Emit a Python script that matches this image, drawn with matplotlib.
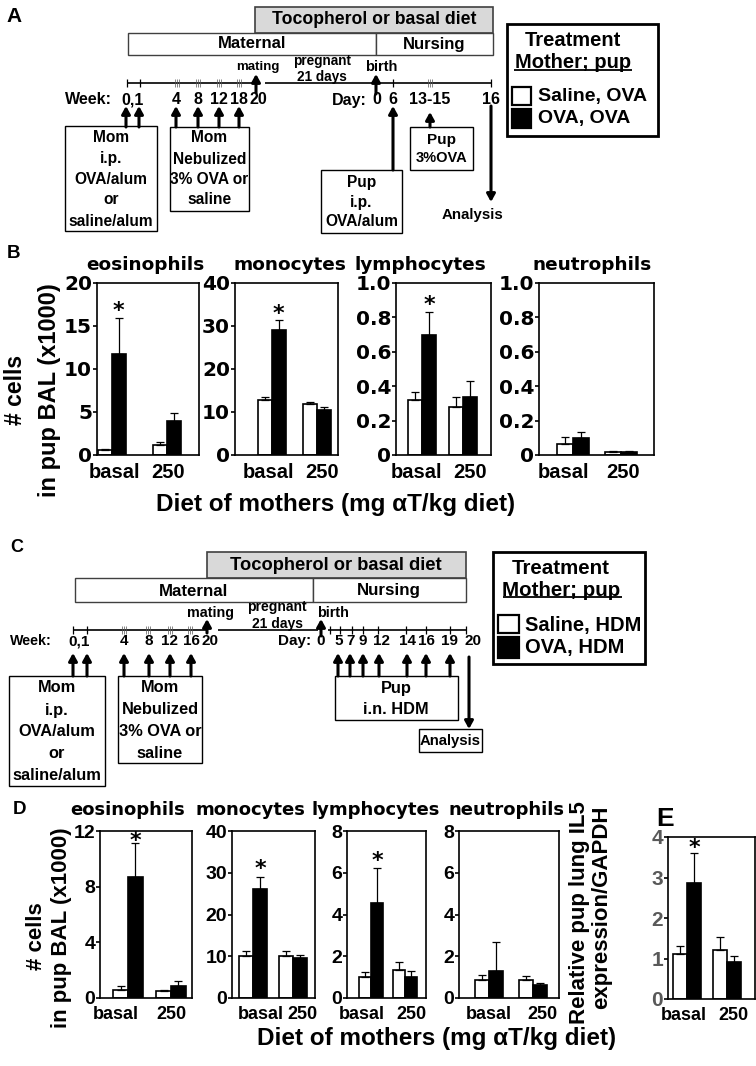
import matplotlib
matplotlib.use('Agg')
import matplotlib.pyplot as plt
from matplotlib.patches import Rectangle
import numpy as np

W, H = 756, 1066
REG = ['Liberation Sans', 'DejaVu Sans']
WIDE = ['DejaVu Sans']

# ---------------- data ----------------
groups = ['basal', '250']
cell_types = ['eosinophils', 'monocytes', 'lymphocytes', 'neutrophils']
diet_label = 'Diet of mothers (mg \u03b1T/kg diet)'

# panel B (pups challenged with OVA); white = Saline, OVA ; black = OVA, OVA
b_white = [[0.6, 1.15], [12.8, 11.9], [0.32, 0.28], [0.064, 0.016]]
b_white_err = [[0.1, 0.4], [0.75, 0.4], [0.047, 0.06], [0.043, 0.01]]
b_black = [[11.8, 3.95], [29.0, 10.5], [0.70, 0.34], [0.097, 0.016]]
b_black_err = [[4.1, 0.9], [2.5, 0.7], [0.13, 0.09], [0.039, 0.01]]
b_ymax = [20, 40, 1.0, 1.0]
b_ticks = [[0, 5, 10, 15, 20], [0, 10, 20, 30, 40],
           [0, 0.2, 0.4, 0.6, 0.8, 1.0], [0, 0.2, 0.4, 0.6, 0.8, 1.0]]
b_ticklabels = [['0', '5', '10', '15', '20'], ['0', '10', '20', '30', '40'],
                ['0', '0.2', '0.4', '0.6', '0.8', '1.0'],
                ['0', '0.2', '0.4', '0.6', '0.8', '1.0']]
b_star = [16.8, 32.8, 0.87, None]

# panel D (pups challenged with HDM); white = Saline, HDM ; black = OVA, HDM
d_white = [[0.58, 0.53], [10.0, 10.0], [0.99, 1.34], [0.84, 0.84]]
d_white_err = [[0.3, 0.05], [1.2, 1.2], [0.25, 0.37], [0.27, 0.2]]
d_black = [[8.68, 0.89], [26.0, 9.6], [4.54, 0.99], [1.31, 0.63]]
d_black_err = [[2.45, 0.31], [3.1, 0.7], [1.7, 0.29], [1.35, 0.1]]
d_ymax = [12, 40, 8, 8]
d_ticks = [[0, 4, 8, 12], [0, 10, 20, 30, 40], [0, 2, 4, 6, 8], [0, 2, 4, 6, 8]]
d_star = [11.3, 30.8, 6.55, None]

# panel E: relative IL5 expression
e_white = [1.11, 1.21]
e_white_err = [0.19, 0.33]
e_black = [2.87, 0.92]
e_black_err = [0.74, 0.15]
e_ticks = [0, 1, 2, 3, 4]
e_star = 3.72

legend_a = ['Saline, OVA', 'OVA, OVA']
legend_c = ['Saline, HDM', 'OVA, HDM']

fig = plt.figure(figsize=(W / 100, H / 100), dpi=100)
ov = fig.add_axes([0, 0, 1, 1], zorder=0)
ov.set_xlim(0, W)
ov.set_ylim(H, 0)
ov.axis('off')


def txt(x, y, s, size, fam=REG, **kw):
    kw.setdefault('ha', 'center')
    kw.setdefault('va', 'center')
    kw.setdefault('fontweight', 'bold')
    return ov.text(x, y, s, fontsize=size, family=fam, **kw)


def rect(x0, y0, x1, y1, fc='white', ec='black', lw=1.0):
    ov.add_patch(Rectangle((x0, y0), x1 - x0, y1 - y0, fc=fc, ec=ec, lw=lw))


def arrow(x, y_from, y_to, lw=2.2):
    ov.annotate('', xy=(x, y_to), xytext=(x, y_from),
                arrowprops=dict(arrowstyle='-|>,head_length=0.45,head_width=0.25',
                                lw=lw, color='black', shrinkA=0, shrinkB=0,
                                mutation_scale=10))


def line(xs, ys, lw=1.2, c='black'):
    ov.plot(xs, ys, color=c, lw=lw, solid_capstyle='butt')


def tick(x, y, h=4):
    line([x, x], [y - h, y + h], lw=0.9)


def triple(x, y):
    for dx in (-2, 0, 2):
        line([x + dx, x + dx], [y - 4, y + 4], lw=0.5, c='#555555')


def legend_box(x0, y0, x1, y1, tx, ty1, ty2, ul, labels, sq, lab_x, lab_y, head_size, lab_size):
    rect(x0, y0, x1, y1, lw=2)
    txt(tx, ty1, 'Treatment', head_size)
    txt(tx, ty2, 'Mother; pup', head_size)
    line(ul, [ty2 + 7, ty2 + 7], lw=1.3)
    for (sx0, sy0, sx1, sy1), fc in zip(sq, ['white', 'black']):
        rect(sx0, sy0, sx1, sy1, fc=fc, lw=1.6)
    for lab, ly in zip(labels, lab_y):
        txt(lab_x, ly, lab, lab_size, ha='left')


# ---------------- panel A ----------------
txt(14, 17, 'A', 15)
rect(255, 7, 493, 33, fc='#d9d9d9', ec='#404040', lw=1.2)
txt(374, 20, 'Tocopherol or basal diet', 12.7)
rect(128, 33, 376, 55, ec='#404040')
rect(376, 33, 493, 55, ec='#404040')
txt(252, 44, 'Maternal', 12)
txt(434, 44, 'Nursing', 12)

ya = 83
line([127, 256], [ya, ya])
line([265, 376], [ya, ya])
line([376, 492], [ya, ya])
for x in (127, 140, 393, 491):
    tick(x, ya)
for x in (177, 198, 219, 239, 430):
    triple(x, ya)
arrow(256, 93, 74)
arrow(376, 94, 74)
txt(258, 67, 'mating', 9.5)
txt(322, 61, 'pregnant', 9.8)
txt(322, 77, '21 days', 9.8)
txt(381, 67, 'birth', 10.5)
for s, x in [('Week:', 88), ('0,1', 133), ('4', 176), ('8', 198), ('12', 219),
             ('18', 239), ('20', 258), ('Day:', 349), ('0', 377), ('6', 393),
             ('13-15', 430), ('16', 491)]:
    txt(x, 100, s, 11.5)

for x in (126, 139, 176, 198, 219, 239):
    arrow(x, 127, 106)
rect(65, 126, 157, 231)
for s, y in zip(['Mom', 'i.p.', 'OVA/alum', 'or', 'saline/alum'], [138, 159, 180, 200, 221]):
    txt(111, y, s, 11.2)
rect(170, 127, 249, 211)
for s, y in zip(['Mom', 'Nebulized', '3% OVA or', 'saline'], [138, 159, 180, 200]):
    txt(209.5, y, s, 11.2)
arrow(393, 170, 106)
rect(321, 170, 402, 233)
for s, y in zip(['Pup', 'i.p.', 'OVA/alum'], [182, 202, 222]):
    txt(361.5, y, s, 11.2)
arrow(430, 127, 112)
rect(410, 127, 473, 170)
txt(441.5, 140, 'Pup', 11)
txt(441.5, 158, '3%OVA', 10.5)
arrow(491, 106, 202)
txt(472, 215, 'Analysis', 10.8)

legend_box(507, 24, 658, 136, 573, 41, 63, [514, 632], legend_a,
           [(512, 87, 531, 105), (512, 109, 531, 128)], 538, [97, 119], 14.5, 14)

# ---------------- panel C ----------------
txt(17, 548, 'C', 13)
rect(207, 552, 466, 578, fc='#d9d9d9', ec='#404040', lw=1.2)
txt(336, 565, 'Tocopherol or basal diet', 13.2)
rect(75, 578, 313, 602, ec='#404040')
rect(313, 578, 466, 602, ec='#404040')
txt(194, 591, 'Maternal', 12.2)
txt(389, 591, 'Nursing', 12.2)

yc = 630
line([73, 207], [yc, yc])
line([218, 318], [yc, yc])
line([328, 466], [yc, yc])
for x in (73, 87, 330, 340, 352, 363, 378, 406, 426, 450, 466):
    tick(x, yc)
for x in (124, 148, 170, 190):
    triple(x, yc)
arrow(207, 633, 619)
arrow(321, 636, 619)
txt(210, 613, 'mating', 10.3)
txt(277, 607, 'pregnant', 10)
txt(277, 624, '21 days', 10)
txt(333, 613, 'birth', 10.4)
for s, x in [('Week:', 31), ('0,1', 79), ('4', 124), ('8', 149), ('12', 170),
             ('16', 191), ('20', 210), ('Day:', 295), ('0', 321), ('5', 339),
             ('7', 351), ('9', 363), ('12', 381), ('14', 407), ('16', 426),
             ('19', 449), ('20', 473)]:
    txt(x, 641, s, 10.3 if s == 'Week:' else 11)

for x in (73, 87, 124, 149, 170, 191):
    arrow(x, 676, 653)
rect(9, 676, 105, 786)
for s, y in zip(['Mom', 'i.p.', 'OVA/alum', 'or', 'saline/alum'], [688, 710, 732, 754, 775]):
    txt(57, y, s, 11.8)
rect(118, 676, 202, 763)
for s, y in zip(['Mom', 'Nebulized', '3% OVA or', 'saline'], [688, 710, 732, 754]):
    txt(160, y, s, 11.8)
for x in (338, 350, 363, 379, 407, 426, 450):
    arrow(x, 676, 653)
rect(335, 676, 458, 720)
txt(396, 688, 'Pup', 11.8)
txt(396, 709, 'i.n. HDM', 11.8)
arrow(469, 657, 729)
rect(419, 729, 482, 752)
txt(450.5, 741, 'Analysis', 10.7)

legend_box(493, 552, 645, 664, 561, 568, 590, [503, 622], legend_c,
           [(498, 615, 519, 633), (498, 637, 519, 658)], 525, [625, 648], 14.8, 14.5)


# ---------------- bar panels ----------------
def bar_panel(box, xlim, w, lab_px, white, werr, black, berr, ymax, ticks, ticklabels,
              star, tfam, tsize, tcolor, xsize, xpad):
    l, t, r, b = box
    ax = fig.add_axes([l / W, 1 - b / H, (r - l) / W, (b - t) / H], zorder=2)
    x = np.arange(len(groups))
    ekw = dict(elinewidth=0.9, capthick=0.9, ecolor='black')
    ax.bar(x - w / 2, white, w, color='white', edgecolor='black', lw=1.2,
           yerr=[np.zeros(len(white)), werr], capsize=2.8, error_kw=ekw)
    ax.bar(x + w / 2, black, w, color='black', edgecolor='black', lw=1.2,
           yerr=[np.zeros(len(black)), berr], capsize=2.8, error_kw=ekw)
    if star is not None:
        ax.text(x[0] + w / 2, star, '*', ha='center', va='center',
                fontsize=16, fontweight='bold', family=WIDE)
    ax.set_xlim(*xlim)
    ax.set_ylim(0, ymax)
    ax.set_yticks(ticks)
    ax.set_yticklabels(ticklabels, family=tfam, fontweight='bold', fontsize=tsize, color=tcolor)
    # group labels sit where the original figure has them
    lab_x = [xlim[0] + (p - l) / (r - l) * (xlim[1] - xlim[0]) for p in lab_px]
    ax.set_xticks(lab_x)
    ax.set_xticklabels(groups, family=REG, fontweight='bold', fontsize=xsize)
    ax.tick_params(axis='y', length=3, width=1.2, pad=0.5)
    ax.tick_params(axis='x', length=0, pad=xpad)
    for sp in ax.spines.values():
        sp.set_linewidth(1.2)
    return ax


b_boxes = [(97, 283, 199, 455), (235, 283, 338, 455), (396, 283, 491, 455), (539, 283, 654, 455)]
b_xlims = [(-0.27, 1.58), (-0.82, 1.47), (-0.63, 1.68), (-0.71, 1.69)]
b_w = [0.25, 0.31, 0.34, 0.33]
b_labs = [(114, 168), (268, 322), (416, 470), (563, 623)]
b_title_x = [145, 290, 420, 592]
for i in range(4):
    bar_panel(b_boxes[i], b_xlims[i], b_w[i], b_labs[i], b_white[i], b_white_err[i],
              b_black[i], b_black_err[i], b_ymax[i], b_ticks[i], b_ticklabels[i],
              b_star[i], WIDE, 14.5, 'black', 14.5, 5.5)
    txt(b_title_x[i], 265, cell_types[i], 13.3, fam=WIDE)
txt(13, 253, 'B', 13.5)
txt(16, 390, '# cells', 16.5, rotation=90)
txt(50, 390, 'in pup BAL (x1000)', 17, rotation=90)
txt(336, 505, diet_label, 17.5)

d_boxes = [(100, 831, 192, 998), (232, 831, 315, 998), (347, 831, 426, 998), (459, 831, 559, 998)]
d_xlims = [(-0.65, 1.49), (-0.53, 1.55), (-0.71, 1.62), (-0.68, 1.59)]
d_w = [0.34, 0.35, 0.35, 0.32]
d_labs = [(116, 171), (261, 302), (362, 411), (489, 542)]
d_title_x = [128, 250, 376, 507]
for i in range(4):
    bar_panel(d_boxes[i], d_xlims[i], d_w[i], d_labs[i], d_white[i], d_white_err[i],
              d_black[i], d_black_err[i], d_ymax[i], d_ticks[i],
              [str(v) for v in d_ticks[i]], d_star[i], REG, 14, 'black', 13, 6)
    txt(d_title_x[i], 810, cell_types[i], 13, fam=WIDE)
txt(19, 810, 'D', 13.5)
txt(37, 936, '# cells', 16, rotation=90)
txt(62, 928, 'in pup BAL (x1000)', 16, rotation=90)
txt(437, 1039, diet_label, 17.5)

bar_panel((668, 837, 755, 999), (-0.475, 1.7), 0.36, (684, 733), e_white, e_white_err,
          e_black, e_black_err, 4, e_ticks, [str(v) for v in e_ticks], e_star,
          REG, 15, '#595959', 13, 6)
txt(665, 819, 'E', 19)
txt(580, 913, 'Relative pup lung IL5', 16, rotation=90)
txt(602, 907, 'expression/GAPDH', 16, rotation=90)

fig.savefig('out.png', dpi=100)
